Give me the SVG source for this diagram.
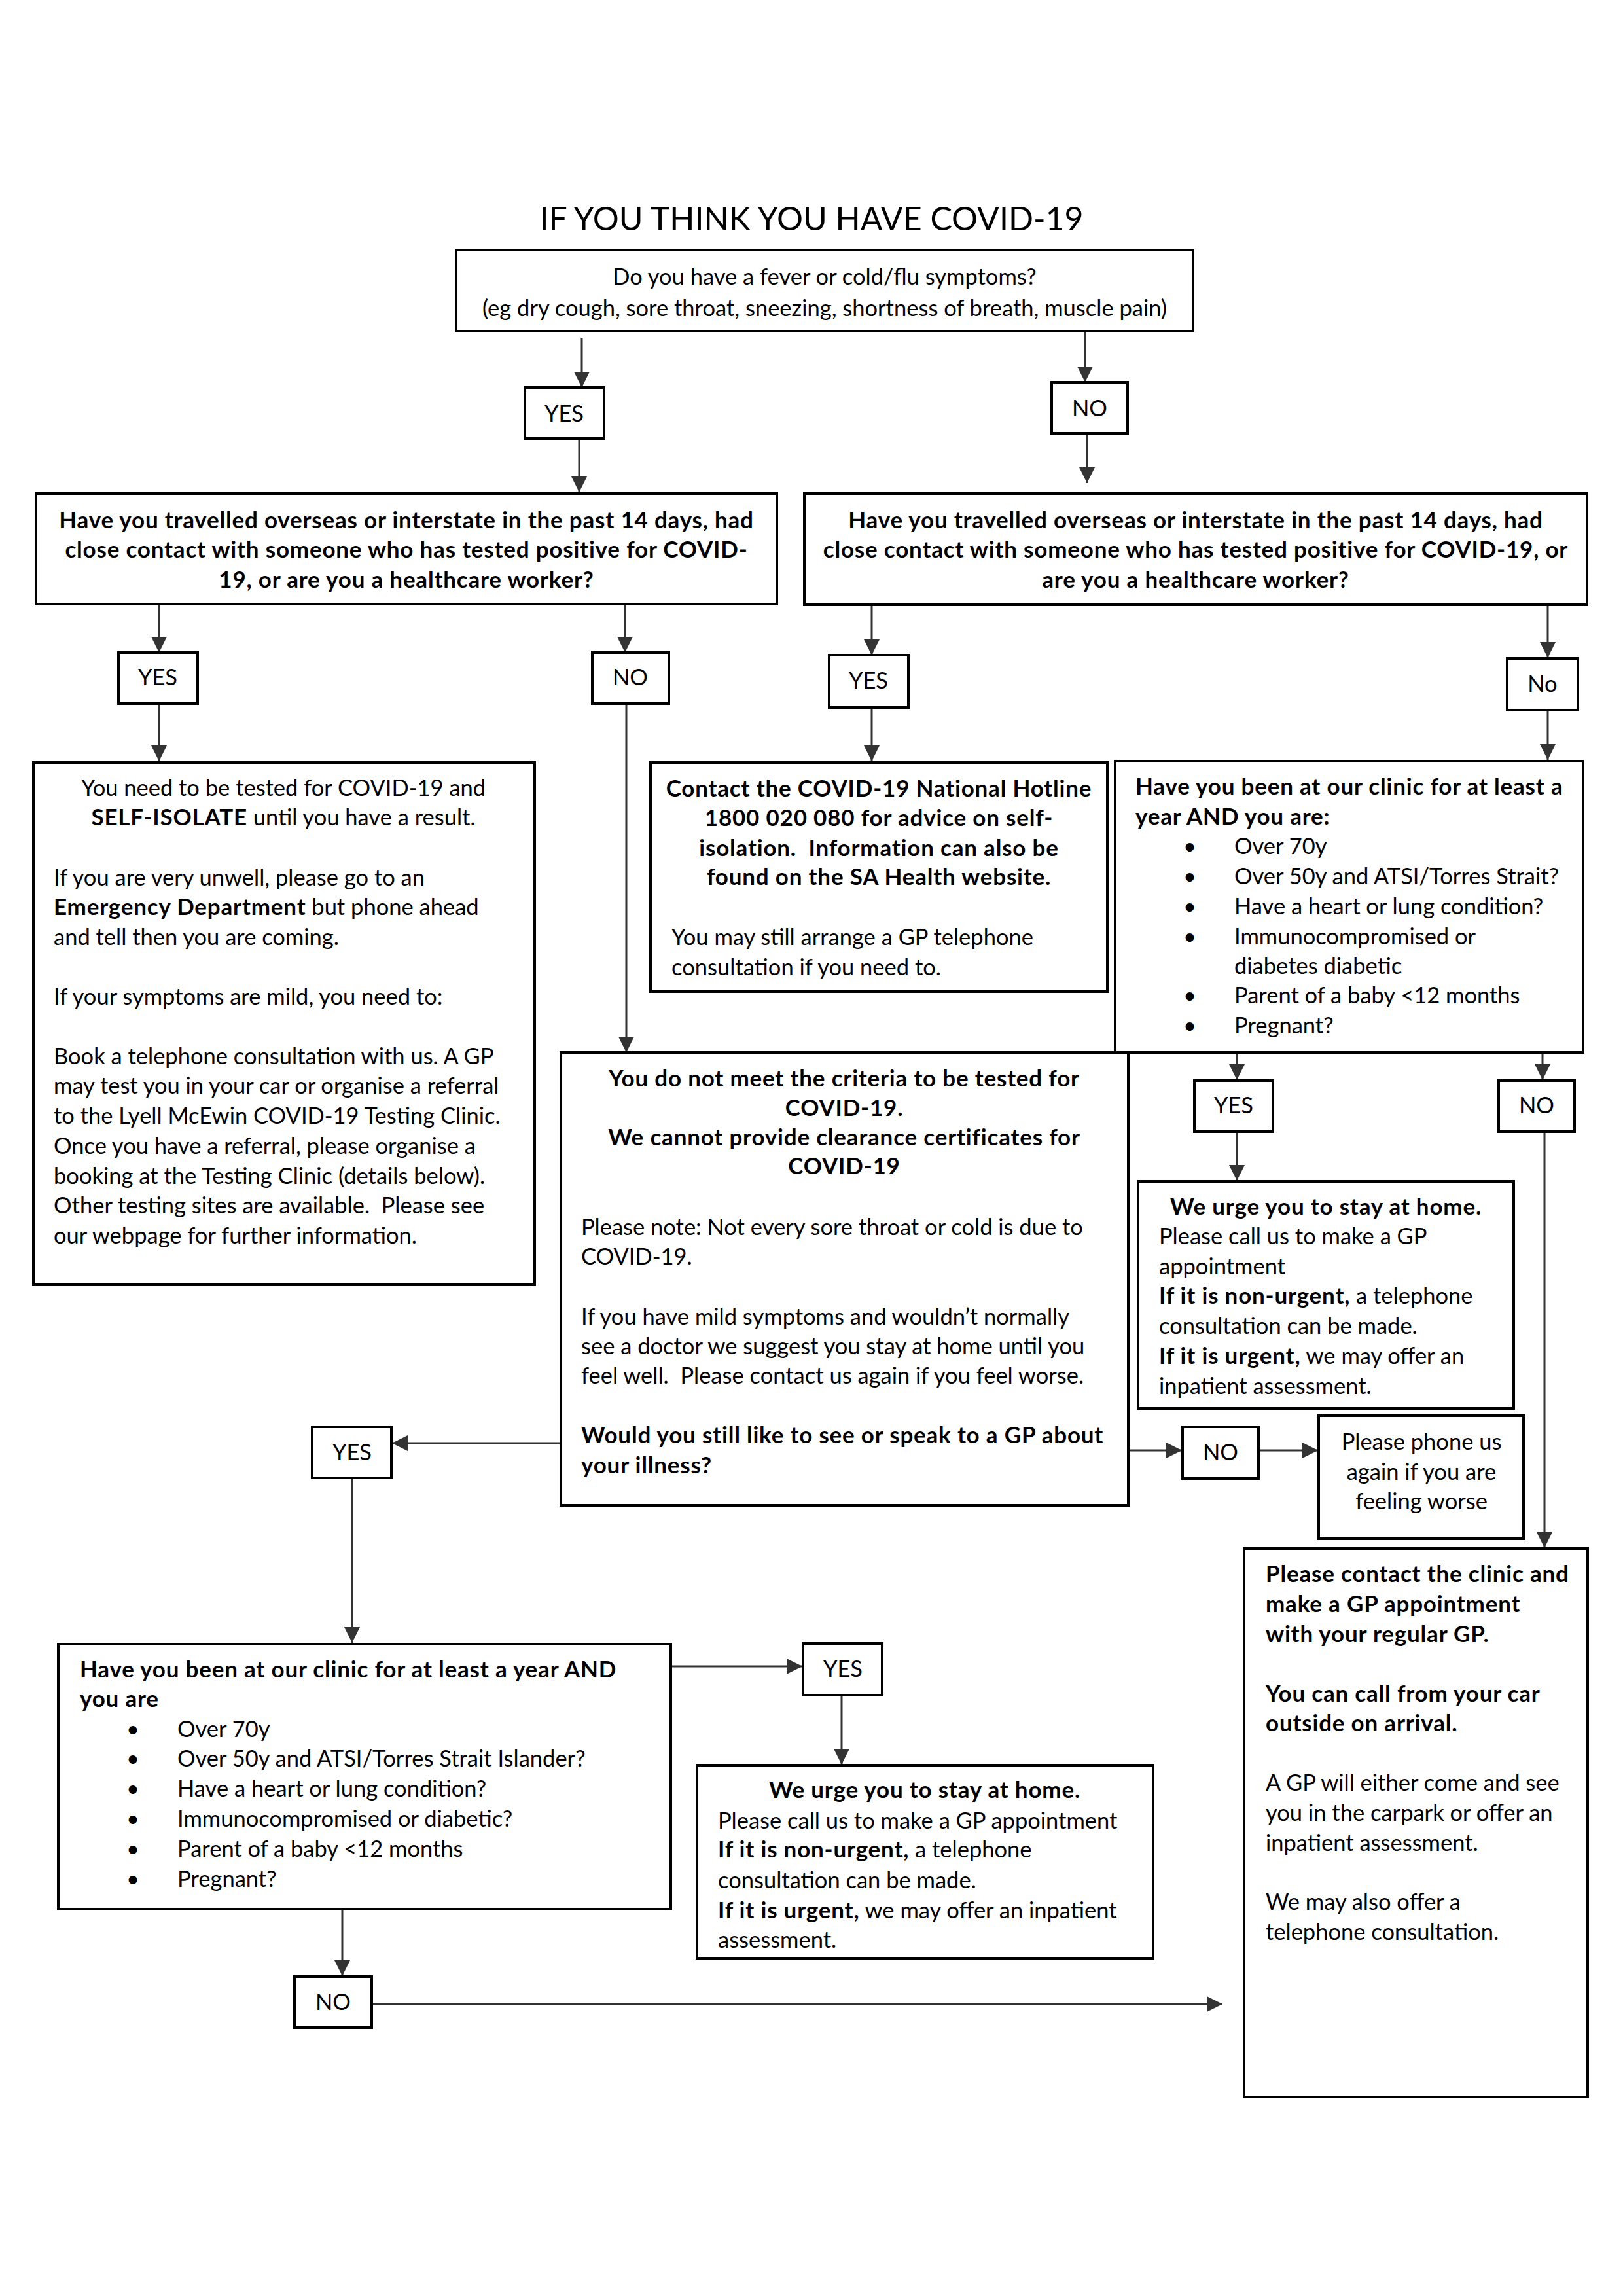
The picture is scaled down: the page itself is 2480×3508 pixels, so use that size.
<svg xmlns="http://www.w3.org/2000/svg" width="2480" height="3508" viewBox="0 0 2480 3508">
<style>
text{font-family:Lato,"Noto Sans","Liberation Sans",sans-serif;font-size:34.5px;fill:#000}
.b{font-weight:bold;font-size:35px;letter-spacing:0.8px}
.c{text-anchor:middle}
.title{font-size:50px}
.box{fill:#fff;stroke:#000;stroke-width:4}
.lbl{fill:#fff;stroke:#000;stroke-width:4}
.con line{stroke:#333;stroke-width:3;fill:none}
</style>
<defs>
<marker id="ah" markerUnits="userSpaceOnUse" markerWidth="24" markerHeight="24" refX="24" refY="12" orient="auto" viewBox="0 0 24 24">
<path d="M0,0 L24,12 L0,24 z" fill="#333"/>
</marker>
</defs>
<rect width="2480" height="3508" fill="#fff"/>
<text class="title c" x="1240" y="352">IF YOU THINK YOU HAVE COVID-19</text>

<g id="connectors" class="con">
<line x1="889" y1="516" x2="889" y2="592" marker-end="url(#ah)"/>
<line x1="885" y1="670" x2="885" y2="752" marker-end="url(#ah)"/>
<line x1="1658" y1="506" x2="1658" y2="584" marker-end="url(#ah)"/>
<line x1="1661" y1="662" x2="1661" y2="738" marker-end="url(#ah)"/>
<line x1="243" y1="923" x2="243" y2="997" marker-end="url(#ah)"/>
<line x1="243" y1="1075" x2="243" y2="1163" marker-end="url(#ah)"/>
<line x1="955" y1="923" x2="955" y2="997" marker-end="url(#ah)"/>
<line x1="957" y1="1075" x2="957" y2="1608" marker-end="url(#ah)"/>
<line x1="1332" y1="922" x2="1332" y2="1001" marker-end="url(#ah)"/>
<line x1="1332" y1="1081" x2="1332" y2="1163" marker-end="url(#ah)"/>
<line x1="2365" y1="924" x2="2365" y2="1005" marker-end="url(#ah)"/>
<line x1="2365" y1="1085" x2="2365" y2="1161" marker-end="url(#ah)"/>
<line x1="1890" y1="1592" x2="1890" y2="1650" marker-end="url(#ah)"/>
<line x1="1890" y1="1729" x2="1890" y2="1804" marker-end="url(#ah)"/>
<line x1="2357" y1="1592" x2="2357" y2="1650" marker-end="url(#ah)"/>
<line x1="2360" y1="1729" x2="2360" y2="2365" marker-end="url(#ah)"/>
<line x1="1724" y1="2216" x2="1806" y2="2216" marker-end="url(#ah)"/>
<line x1="1923" y1="2216" x2="2014" y2="2216" marker-end="url(#ah)"/>
<line x1="857" y1="2205" x2="599" y2="2205" marker-end="url(#ah)"/>
<line x1="538" y1="2258" x2="538" y2="2510" marker-end="url(#ah)"/>
<line x1="1025" y1="2546" x2="1226" y2="2546" marker-end="url(#ah)"/>
<line x1="1286" y1="2590" x2="1286" y2="2696" marker-end="url(#ah)"/>
<line x1="523" y1="2917" x2="523" y2="3019" marker-end="url(#ah)"/>
<line x1="568" y1="3062" x2="1868" y2="3062" marker-end="url(#ah)"/>
</g>

<g id="q-fever">
<rect class="box" x="697" y="382" width="1126" height="124"/>
<text class="c" x="1260" y="435">Do you have a fever or cold/flu symptoms?</text>
<text class="c" x="1260" y="483">(eg dry cough, sore throat, sneezing, shortness of breath, muscle pain)</text>
</g>
<g id="lbl-yes-1"><rect class="lbl" x="802" y="592" width="121" height="78"/><text class="c" x="862" y="644">YES</text></g>
<g id="lbl-no-1"><rect class="lbl" x="1607" y="584" width="116" height="78"/><text class="c" x="1665" y="636">NO</text></g>

<g id="q-travel-left">
<rect class="box" x="55" y="754" width="1132" height="169"/>
<text class="b c" x="621" y="807">Have you travelled overseas or interstate in the past 14 days, had</text>
<text class="b c" x="621" y="852">close contact with someone who has tested positive for COVID-</text>
<text class="b c" x="621" y="898">19, or are you a healthcare worker?</text>
</g>
<g id="q-travel-right">
<rect class="box" x="1229" y="754" width="1196" height="170"/>
<text class="b c" x="1827" y="807">Have you travelled overseas or interstate in the past 14 days, had</text>
<text class="b c" x="1827" y="852">close contact with someone who has tested positive for COVID-19, or</text>
<text class="b c" x="1827" y="898">are you a healthcare worker?</text>
</g>

<g id="lbl-yes-2"><rect class="lbl" x="181" y="997" width="121" height="78"/><text class="c" x="241" y="1047">YES</text></g>
<g id="lbl-no-2"><rect class="lbl" x="905" y="997" width="117" height="78"/><text class="c" x="963" y="1047">NO</text></g>
<g id="lbl-yes-3"><rect class="lbl" x="1267" y="1001" width="121" height="80"/><text class="c" x="1327" y="1052">YES</text></g>
<g id="lbl-no-3"><rect class="lbl" x="2303" y="1006" width="108" height="79"/><text class="c" x="2357" y="1057">No</text></g>

<g id="test-isolate">
<rect class="box" x="51" y="1165" width="766" height="798"/>
<text class="c" x="433" y="1216">You need to be tested for COVID-19 and</text>
<text class="c" x="433" y="1261"><tspan class="b">SELF-ISOLATE</tspan> until you have a result.</text>
<text x="82" y="1353">If you are very unwell, please go to an</text>
<text x="82" y="1398"><tspan class="b">Emergency Department</tspan> but phone ahead</text>
<text x="82" y="1444">and tell then you are coming.</text>
<text x="82" y="1535">If your symptoms are mild, you need to:</text>
<text x="82" y="1626">Book a telephone consultation with us. A GP</text>
<text x="82" y="1671">may test you in your car or organise a referral</text>
<text x="82" y="1717">to the Lyell McEwin COVID-19 Testing Clinic.</text>
<text x="82" y="1763">Once you have a referral, please organise a</text>
<text x="82" y="1809">booking at the Testing Clinic (details below).</text>
<text x="82" y="1854" xml:space="preserve">Other testing sites are available.  Please see</text>
<text x="82" y="1900">our webpage for further information.</text>
</g>

<g id="hotline">
<rect class="box" x="994" y="1165" width="698" height="350"/>
<text class="b c" x="1343" y="1217">Contact the COVID-19 National Hotline</text>
<text class="b c" x="1343" y="1262">1800 020 080 for advice on self-</text>
<text class="b c" x="1343" y="1308" xml:space="preserve">isolation.  Information can also be</text>
<text class="b c" x="1343" y="1352">found on the SA Health website.</text>
<text x="1026" y="1444">You may still arrange a GP telephone</text>
<text x="1026" y="1490">consultation if you need to.</text>
</g>

<g id="q-clinic-right">
<rect class="box" x="1704" y="1163" width="715" height="445"/>
<text class="b" x="1735" y="1214">Have you been at our clinic for at least a</text>
<text class="b" x="1735" y="1260">year AND you are:</text>
<text class="c" x="1818" y="1305">•</text><text x="1886" y="1305">Over 70y</text>
<text class="c" x="1818" y="1351">•</text><text x="1886" y="1351">Over 50y and ATSI/Torres Strait?</text>
<text class="c" x="1818" y="1397">•</text><text x="1886" y="1397">Have a heart or lung condition?</text>
<text class="c" x="1818" y="1443">•</text><text x="1886" y="1443">Immunocompromised or</text>
<text x="1886" y="1488">diabetes diabetic</text>
<text class="c" x="1818" y="1533">•</text><text x="1886" y="1533">Parent of a baby &lt;12 months</text>
<text class="c" x="1818" y="1579">•</text><text x="1886" y="1579">Pregnant?</text>
</g>

<g id="not-criteria">
<rect class="box" x="857" y="1608" width="867" height="692"/>
<text class="b c" x="1290" y="1660">You do not meet the criteria to be tested for</text>
<text class="b c" x="1290" y="1705">COVID-19.</text>
<text class="b c" x="1290" y="1750">We cannot provide clearance certificates for</text>
<text class="b c" x="1290" y="1794">COVID-19</text>
<text x="888" y="1887">Please note: Not every sore throat or cold is due to</text>
<text x="888" y="1932">COVID-19.</text>
<text x="888" y="2024">If you have mild symptoms and wouldn’t normally</text>
<text x="888" y="2069">see a doctor we suggest you stay at home until you</text>
<text x="888" y="2114" xml:space="preserve">feel well.  Please contact us again if you feel worse.</text>
<text class="b" x="888" y="2205">Would you still like to see or speak to a GP about</text>
<text class="b" x="888" y="2251">your illness?</text>
</g>

<g id="lbl-yes-4"><rect class="lbl" x="1825" y="1651" width="120" height="78"/><text class="c" x="1885" y="1701">YES</text></g>
<g id="lbl-no-4"><rect class="lbl" x="2290" y="1651" width="116" height="78"/><text class="c" x="2348" y="1701">NO</text></g>

<g id="urge-1">
<rect class="box" x="1739" y="1805" width="574" height="347"/>
<text class="b c" x="2026" y="1856">We urge you to stay at home.</text>
<text x="1771" y="1901">Please call us to make a GP</text>
<text x="1771" y="1947">appointment</text>
<text x="1771" y="1992"><tspan class="b">If it is non-urgent,</tspan> a telephone</text>
<text x="1771" y="2038">consultation can be made.</text>
<text x="1771" y="2084"><tspan class="b">If it is urgent,</tspan> we may offer an</text>
<text x="1771" y="2130">inpatient assessment.</text>
</g>

<g id="lbl-no-5"><rect class="lbl" x="1807" y="2180" width="116" height="79"/><text class="c" x="1865" y="2231">NO</text></g>
<g id="phone-again">
<rect class="box" x="2015" y="2163" width="313" height="188"/>
<text class="c" x="2172" y="2215">Please phone us</text>
<text class="c" x="2172" y="2261">again if you are</text>
<text class="c" x="2172" y="2306">feeling worse</text>
</g>

<g id="lbl-yes-5"><rect class="lbl" x="477" y="2180" width="121" height="78"/><text class="c" x="538" y="2231">YES</text></g>

<g id="q-clinic-left">
<rect class="box" x="89" y="2512" width="936" height="405"/>
<text class="b" x="122" y="2563">Have you been at our clinic for at least a year AND</text>
<text class="b" x="122" y="2608">you are</text>
<text class="c" x="203" y="2654">•</text><text x="271" y="2654">Over 70y</text>
<text class="c" x="203" y="2699">•</text><text x="271" y="2699">Over 50y and ATSI/Torres Strait Islander?</text>
<text class="c" x="203" y="2745">•</text><text x="271" y="2745">Have a heart or lung condition?</text>
<text class="c" x="203" y="2791">•</text><text x="271" y="2791">Immunocompromised or diabetic?</text>
<text class="c" x="203" y="2837">•</text><text x="271" y="2837">Parent of a baby &lt;12 months</text>
<text class="c" x="203" y="2883">•</text><text x="271" y="2883">Pregnant?</text>
</g>

<g id="lbl-yes-6"><rect class="lbl" x="1227" y="2511" width="121" height="79"/><text class="c" x="1288" y="2562">YES</text></g>

<g id="urge-2">
<rect class="box" x="1065" y="2697" width="697" height="295"/>
<text class="b c" x="1413" y="2747">We urge you to stay at home.</text>
<text x="1097" y="2794">Please call us to make a GP appointment</text>
<text x="1097" y="2838"><tspan class="b">If it is non-urgent,</tspan> a telephone</text>
<text x="1097" y="2885">consultation can be made.</text>
<text x="1097" y="2931"><tspan class="b">If it is urgent,</tspan> we may offer an inpatient</text>
<text x="1097" y="2976">assessment.</text>
</g>

<g id="lbl-no-6"><rect class="lbl" x="450" y="3020" width="118" height="78"/><text class="c" x="509" y="3071">NO</text></g>

<g id="contact-clinic">
<rect class="box" x="1901" y="2366" width="525" height="838"/>
<text class="b" x="1934" y="2417">Please contact the clinic and</text>
<text class="b" x="1934" y="2463">make a GP appointment</text>
<text class="b" x="1934" y="2509">with your regular GP.</text>
<text class="b" x="1934" y="2600">You can call from your car</text>
<text class="b" x="1934" y="2645">outside on arrival.</text>
<text x="1934" y="2736">A GP will either come and see</text>
<text x="1934" y="2782">you in the carpark or offer an</text>
<text x="1934" y="2828">inpatient assessment.</text>
<text x="1934" y="2918">We may also offer a</text>
<text x="1934" y="2964">telephone consultation.</text>
</g>
</svg>
